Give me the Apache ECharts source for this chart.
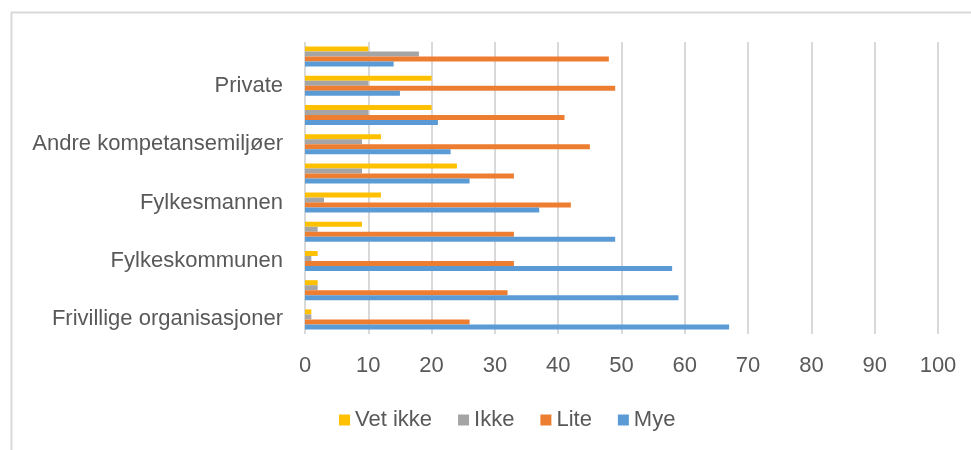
<!DOCTYPE html>
<html>
<head>
<meta charset="utf-8">
<script src="https://cdn.jsdelivr.net/npm/echarts@6/dist/echarts.min.js"></script>
<style>
  html, body { margin: 0; padding: 0; background: #ffffff; }
  #chart { width: 971px; height: 450px; }
</style>
</head>
<body>
<div id="chart"></div>
<script>
// Categories from bottom to top; every other label is left blank on the axis.
const categories = [
  'Frivillige organisasjoner', '',
  'Fylkeskommunen', '',
  'Fylkesmannen', '',
  'Andre kompetansemiljøer', '',
  'Private', ''
];

const vetIkke = [1, 2, 2, 9, 12, 24, 12, 20, 20, 10];
const ikke    = [1, 2, 1, 2, 3, 9, 9, 10, 10, 18];
const lite    = [26, 32, 33, 33, 42, 33, 45, 41, 49, 48];
const mye     = [67, 59, 58, 49, 37, 26, 23, 21, 15, 14];

const xTicks = { min: 0, max: 100, interval: 10 };

const textColor = '#595959';
const gridColor = '#d9d9d9';
const fontFamily = '"Liberation Sans", Arial, sans-serif';
const fontSize = 22;

const chart = echarts.init(document.getElementById('chart'), null, { renderer: 'canvas' });

function barSeries(name, data, color) {
  return {
    name: name,
    type: 'bar',
    data: data,
    barWidth: 5,
    barGap: '0%',
    itemStyle: { color: color },
    emphasis: { disabled: true }
  };
}

chart.setOption({
  animation: false,
  backgroundColor: '#ffffff',
  graphic: [{
    type: 'rect',
    left: 9,
    top: 10,
    shape: { x: 0, y: 0, width: 1000, height: 500 },
    style: { fill: 'none', stroke: gridColor, lineWidth: 2 },
    silent: true
  }],
  grid: { left: 305, right: 33, top: 42, bottom: 116, containLabel: false },
  legend: {
    data: ['Vet ikke', 'Ikke', 'Lite', 'Mye'],
    left: 334,
    top: 404,
    itemWidth: 11,
    itemHeight: 11,
    itemGap: 26,
    icon: 'rect',
    textStyle: { color: textColor, fontSize: fontSize, fontFamily: fontFamily }
  },
  xAxis: {
    type: 'value',
    min: xTicks.min,
    max: xTicks.max,
    interval: xTicks.interval,
    axisLine: { show: false },
    axisTick: { show: false },
    axisLabel: { color: textColor, fontSize: fontSize, fontFamily: fontFamily, margin: 21 },
    splitLine: { show: true, lineStyle: { color: gridColor, width: 2 } }
  },
  yAxis: {
    type: 'category',
    data: categories,
    axisLine: { show: false },
    axisTick: { show: false },
    axisLabel: { color: textColor, fontSize: fontSize, fontFamily: fontFamily, margin: 22, interval: 0 },
    splitLine: { show: false }
  },
  series: [
    barSeries('Vet ikke', vetIkke, '#FFC000'),
    barSeries('Ikke', ikke, '#A5A5A5'),
    barSeries('Lite', lite, '#ED7D31'),
    barSeries('Mye', mye, '#5B9BD5')
  ]
});
</script>
</body>
</html>
